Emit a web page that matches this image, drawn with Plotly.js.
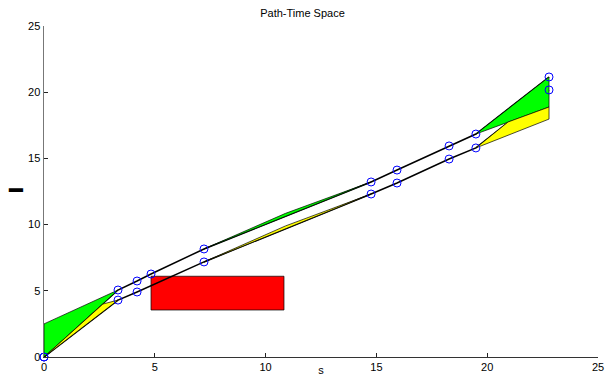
<!DOCTYPE html>
<html><head><meta charset="utf-8">
<script src="https://cdn.plot.ly/plotly-3.0.1.min.js"></script>
<style>html,body{margin:0;padding:0;background:#fff}#chart{width:605px;height:376px}</style>
</head><body><div id="chart"></div>
<script>
// Upper trajectory (s, t)
const upperS = [0, 3.34, 4.2, 4.83, 7.22, 14.76, 15.93, 18.28, 19.49, 22.79];
const upperT = [0, 5.06, 5.74, 6.27, 8.16, 13.22, 14.12, 15.94, 16.84, 21.15];
// Lower trajectory (s, t)
const lowerS = [0, 3.34, 4.2, 7.22, 14.76, 15.93, 18.28, 19.49, 22.79];
const lowerT = [0, 4.3, 4.91, 7.18, 12.31, 13.14, 14.95, 15.79, 20.17];
// Obstacle rectangle
const obsS = [4.83, 10.83, 10.83, 4.83, 4.83];
const obsT = [3.55, 3.55, 6.1, 6.1, 3.55];
// Green regions
const greenA_S = [0, 0, 3.34, 0];
const greenA_T = [0, 2.5, 5.06, 0];
const greenB_S = [7.22, 10.9, 14.76, 7.22];
const greenB_T = [8.16, 10.85, 13.22, 8.16];
const greenC_S = [19.49, 22.79, 22.79, 20.94, 19.49];
const greenC_T = [16.84, 21.15, 18.88, 17.75, 16.84];
// Yellow regions
const yellowA_S = [0, 2.66, 3.34, 0];
const yellowA_T = [0, 4.0, 4.3, 0];
const yellowB_S = [7.22, 10.9, 14.76, 7.22];
const yellowB_T = [7.18, 9.9, 12.31, 7.18];
const yellowC_S = [19.49, 20.94, 22.79, 22.79, 19.49];
const yellowC_T = [15.79, 17.75, 18.88, 17.97, 15.79];
// Axis ticks
const tickVals = [0, 5, 10, 15, 20, 25];
const yLabel = '━';

function poly(x, y, color) {
  return {x: x, y: y, type: 'scatter', mode: 'lines', fill: 'toself', fillcolor: color,
          line: {color: '#000', width: 0.7}, hoverinfo: 'skip', showlegend: false};
}
const traces = [
  poly(obsS, obsT, '#ff0000'),
  {x: upperS, y: upperT, type: 'scatter', mode: 'lines', line: {color: '#000', width: 1.5}, showlegend: false},
  {x: lowerS, y: lowerT, type: 'scatter', mode: 'lines', line: {color: '#000', width: 1.5}, showlegend: false},
  poly(greenA_S, greenA_T, '#00ff00'),
  poly(yellowA_S, yellowA_T, '#ffff00'),
  poly(greenB_S, greenB_T, '#00ff00'),
  poly(yellowB_S, yellowB_T, '#ffff00'),
  poly(greenC_S, greenC_T, '#00ff00'),
  poly(yellowC_S, yellowC_T, '#ffff00'),
  {x: upperS, y: upperT, type: 'scatter', mode: 'markers', cliponaxis: false,
   marker: {symbol: 'circle-open', size: 8, color: '#0000ff', line: {width: 1, color: '#0000ff'}}, showlegend: false},
  {x: lowerS, y: lowerT, type: 'scatter', mode: 'markers', cliponaxis: false,
   marker: {symbol: 'circle-open', size: 8, color: '#0000ff', line: {width: 1, color: '#0000ff'}}, showlegend: false}
];
const font = {family: 'Liberation Sans, Arial, sans-serif', size: 11, color: '#000'};
const layout = {
  width: 605, height: 376,
  margin: {l: 44, r: 7, t: 26, b: 19, pad: 0},
  paper_bgcolor: '#fff', plot_bgcolor: '#fff',
  font: font,
  showlegend: false,
  title: {text: 'Path-Time Space', font: {family: font.family, size: 11, color: '#000'}, x: 0.5, xanchor: 'center', y: 0.975, yanchor: 'top'},
  xaxis: {range: [0, 25], tickvals: tickVals, ticktext: tickVals.map(String), ticks: 'inside', ticklen: 4, tickcolor: '#222',
          showline: true, linecolor: '#333', linewidth: 1, showgrid: false, zeroline: false, mirror: false,
          tickfont: font, title: {text: 's', font: font, standoff: 5}},
  yaxis: {range: [0, 25], tickvals: tickVals, ticktext: tickVals.map(String), ticks: 'inside', ticklen: 4, tickcolor: '#222',
          showline: true, linecolor: '#777', linewidth: 1.5, showgrid: false, zeroline: false, mirror: false,
          tickfont: font},
  annotations: [{text: yLabel, xref: 'paper', yref: 'paper', x: -0.0505, y: 0.5045, xanchor: 'center', yanchor: 'middle',
                 showarrow: false, textangle: 0, font: {family: 'DejaVu Sans Mono', size: 23, color: '#000'}}]
};
Plotly.newPlot('chart', traces, layout, {displayModeBar: false, staticPlot: true});
</script></body></html>
